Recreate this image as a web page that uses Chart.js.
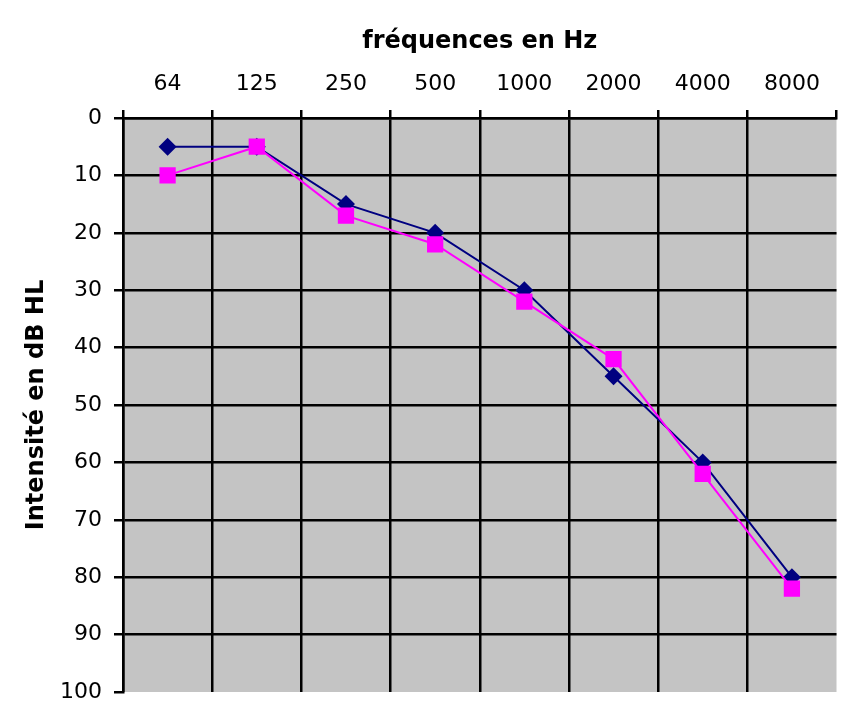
<!DOCTYPE html>
<html>
<head>
<meta charset="utf-8">
<script src="https://cdn.jsdelivr.net/npm/chart.js@4.4.1/dist/chart.umd.min.js"></script>
<style>
  html, body { margin: 0; padding: 0; background: #fff; }
  #wrap { width: 848px; height: 722px; }
</style>
</head>
<body>
<div id="wrap"><canvas id="audio"></canvas></div>
<script>
// frequencies (Hz) and the two threshold curves (dB HL)
const frequencies = ['64', '125', '250', '500', '1000', '2000', '4000', '8000'];
const navySeries = [5, 5, 15, 20, 30, 45, 60, 80];
const pinkSeries = [10, 5, 17, 22, 32, 42, 62, 82];
const yTicks = [0, 10, 20, 30, 40, 50, 60, 70, 80, 90, 100];

Chart.defaults.font.family = 'DejaVu Sans';
Chart.defaults.color = '#000';

// grey plot background
const plotBg = {
  id: 'plotBg',
  beforeDraw(chart) {
    const a = chart.chartArea;
    const ctx = chart.ctx;
    ctx.save();
    ctx.fillStyle = '#c4c4c4';
    ctx.fillRect(a.left, a.top, a.right - a.left, a.bottom - a.top);
    ctx.restore();
  }
};

new Chart(document.getElementById('audio').getContext('2d'), {
  type: 'line',
  data: {
    labels: frequencies,
    datasets: [{
      data: pinkSeries,
      borderColor: '#ff00ff',
      backgroundColor: '#ff00ff',
      borderWidth: 2,
      pointStyle: 'rect',
      pointRadius: 11.5,
      pointBorderWidth: 0,
      tension: 0
    }, {
      data: navySeries,
      borderColor: '#000080',
      backgroundColor: '#000080',
      borderWidth: 2,
      pointStyle: 'rectRot',
      pointRadius: 9,
      pointBorderWidth: 0,
      tension: 0
    }]
  },
  options: {
    responsive: true,
    maintainAspectRatio: false,
    animation: false,
    layout: { padding: { left: 0, top: 0, right: 10, bottom: 30 } },
    plugins: { legend: { display: false }, tooltip: { enabled: false } },
    scales: {
      x: {
        position: 'top',
        offset: true,
        afterFit(scale) { scale.height = 118; },
        border: { color: '#000', width: 2.5 },
        grid: {
          offset: true,
          lineWidth: 2.5,
          tickLength: 8,
          tickColor: '#000',
          // last offset line (right edge) has no tick context: keep only its tick mark
          color: (c) => c.type === 'tick' ? '#000' : 'rgba(0,0,0,0)'
        },
        ticks: { font: { size: 22 }, padding: 13, maxRotation: 0 },
        title: {
          display: true,
          text: 'fréquences en Hz',
          font: { size: 24, weight: 'bold' },
          padding: { top: 27, bottom: 0 }
        }
      },
      y: {
        reverse: true,
        min: 0,
        max: 100,
        afterFit(scale) { scale.width = 123; },
        afterBuildTicks(scale) { scale.ticks = yTicks.map(v => ({ value: v })); },
        border: { color: '#000', width: 2.5 },
        grid: {
          lineWidth: 2.5,
          tickLength: 9,
          tickColor: '#000',
          color: (c) => c.tick && c.tick.value === 100 ? 'rgba(0,0,0,0)' : '#000'
        },
        ticks: { font: { size: 22 }, padding: 12 },
        title: {
          display: true,
          text: 'Intensité en dB HL',
          font: { size: 24, weight: 'bold' },
          padding: { top: 22, bottom: 0 }
        }
      }
    }
  },
  plugins: [plotBg]
});
</script>
</body>
</html>
